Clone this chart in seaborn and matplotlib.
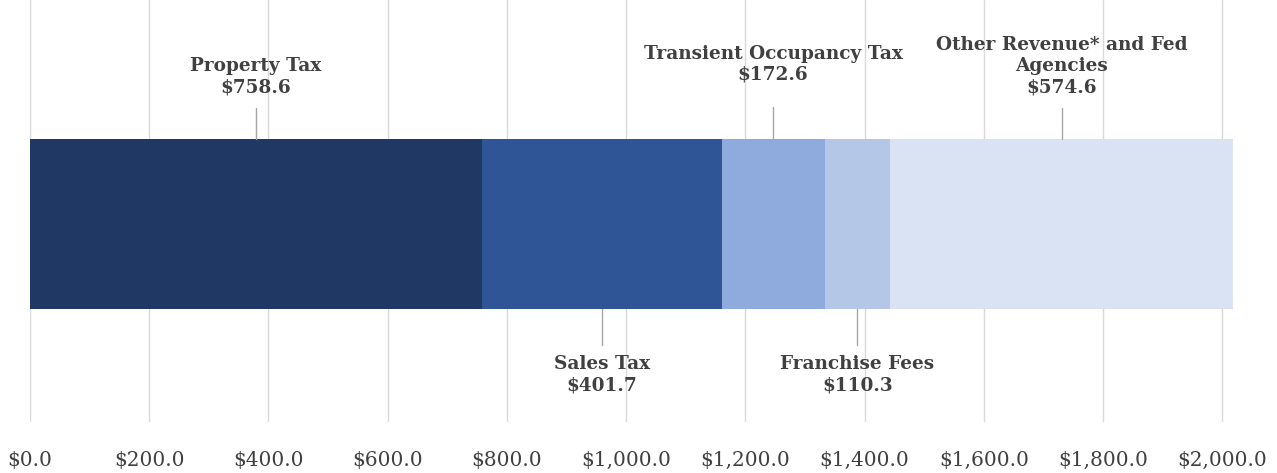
import matplotlib
matplotlib.use("Agg")
import matplotlib.pyplot as plt
import seaborn as sns
import pandas as pd
import numpy as np

# ---- data ----
categories = ["Property Tax", "Sales Tax", "Transient Occupancy Tax",
              "Franchise Fees", "Other Revenue* and Fed Agencies"]
label_names = ["Property Tax", "Sales Tax", "Transient Occupancy Tax",
               "Franchise Fees", "Other Revenue* and Fed\nAgencies"]
values = [758.6, 401.7, 172.6, 110.3, 574.6]
tick_values = [0, 200, 400, 600, 800, 1000, 1200, 1400, 1600, 1800, 2000]
tick_labels = ["$0.0", "$200.0", "$400.0", "$600.0", "$800.0", "$1,000.0",
               "$1,200.0", "$1,400.0", "$1,600.0", "$1,800.0", "$2,000.0"]

# ---- style ----
colors = ["#203864", "#2F5597", "#8FAADC", "#B4C7E7", "#DAE3F3"]
label_side = ["top", "bottom", "top", "bottom", "top"]
top_text_y = [-0.60, None, -0.66, None, -0.60]
line_end_top = [-0.545, None, -0.55, None, -0.545]
text_color = "#404040"

sns.set_theme(style="white")
plt.rcParams["font.family"] = ["DejaVu Serif"]

fig = plt.figure(figsize=(12.77, 4.73), dpi=100)
ax = fig.add_axes([30 / 1277, 51 / 473, 1228 / 1277, 422 / 473])

cum = np.cumsum(values)
starts = cum - np.array(values)

# stacked bar: draw cumulative totals from largest to smallest
for i in reversed(range(len(values))):
    df = pd.DataFrame({"row": ["Revenue"], "value": [cum[i]]})
    sns.barplot(data=df, x="value", y="row", color=colors[i], width=0.8,
                saturation=1, orient="h", ax=ax, zorder=3, linewidth=0)

ax.set_xlim(0, 2060)
ax.set_ylim(0.933, -1.052)
ax.set_xticks(tick_values)
ax.set_xticklabels(tick_labels, fontsize=14.5, color=text_color)
ax.set_yticks([])
ax.set_xlabel("")
ax.set_ylabel("")
ax.tick_params(axis="x", length=0, pad=21)
ax.grid(axis="x", color="#D9D9D9", linewidth=1, zorder=0)
ax.set_axisbelow(True)
for s in ax.spines.values():
    s.set_visible(False)

for i, name in enumerate(label_names):
    cx = starts[i] + values[i] / 2
    txt = f"{name}\n${values[i]:,.1f}"
    if label_side[i] == "top":
        ax.plot([cx, cx], [-0.4, line_end_top[i]], color="#A6A6A6", lw=1, zorder=4)
        ax.text(cx, top_text_y[i], txt, ha="center", va="bottom",
                fontsize=13.3, fontweight="bold", color=text_color,
                linespacing=1.2, multialignment="center")
    else:
        ax.plot([cx, cx], [0.4, 0.57], color="#A6A6A6", lw=1, zorder=4)
        ax.text(cx, 0.62, txt, ha="center", va="top",
                fontsize=13.3, fontweight="bold", color=text_color,
                linespacing=1.2, multialignment="center")

fig.savefig("out.png", dpi=100)
